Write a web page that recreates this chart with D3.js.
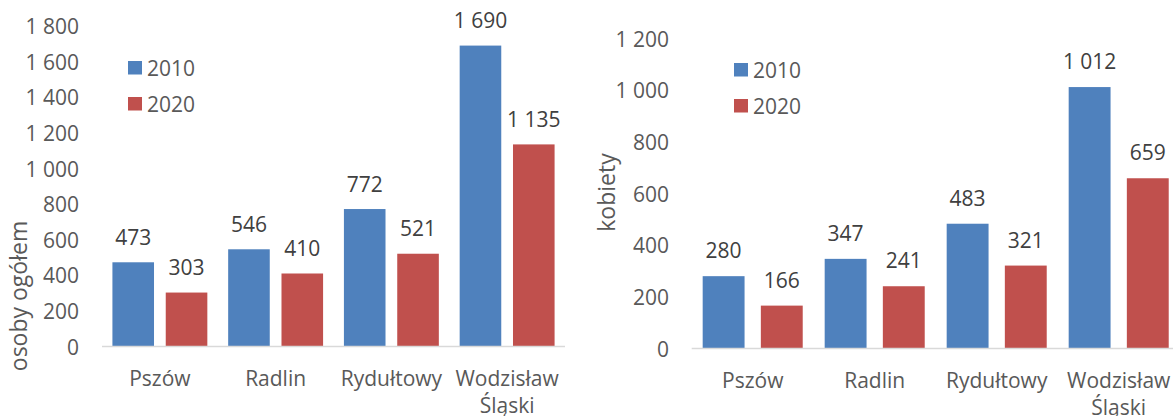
<!DOCTYPE html>
<meta charset="utf-8">
<style>
    body { margin: 0; background: #fff; }
    svg text { font-family: "Open Sans", sans-serif; }
    .tick-label { font-size: 21px; fill: #595959; }
    .cat-label { font-size: 21px; fill: #595959; }
    .value-label { font-size: 21px; fill: #404040; }
    .axis-title { font-size: 23px; fill: #595959; }
    .legend-label { font-size: 21px; fill: #595959; }
    .baseline { stroke: #d9d9d9; stroke-width: 1.5px; }
</style>
<svg id="svg" width="1173" height="416"></svg>

<script src="https://d3js.org/d3.v7.min.js"></script>
<script>

var categories = ["Pszów", "Radlin", "Rydułtowy", "Wodzisław Śląski"];
var years = ["2010", "2020"];
var colors = ["#4f81bd", "#c0504d"];

// osoby ogółem
var total2010 = [473, 546, 772, 1690];
var total2020 = [303, 410, 521, 1135];
var totalTicks = [0, 200, 400, 600, 800, 1000, 1200, 1400, 1600, 1800];

// kobiety
var women2010 = [280, 347, 483, 1012];
var women2020 = [166, 241, 321, 659];
var womenTicks = [0, 200, 400, 600, 800, 1000, 1200];

var pl = d3.formatLocale({decimal: ",", thousands: " ", grouping: [3], currency: ["", ""]});
var fmt = pl.format(",");

var svg = d3.select("#svg");

function drawPanel(opt) {
    var g = svg.append("g");

    var x0 = d3.scaleBand()
        .domain(categories)
        .range(opt.xRange)
        .paddingInner(0.18)
        .paddingOuter(0.09);

    var x1 = d3.scaleBand()
        .domain(years)
        .range([0, x0.bandwidth()])
        .paddingInner(opt.innerPad);

    var y = d3.scaleLinear()
        .domain([0, opt.max])
        .range(opt.yRange);

    // value ticks
    var yAxis = d3.axisLeft(y).tickValues(opt.ticks).tickSize(0).tickPadding(0).tickFormat(fmt);
    var ya = g.append("g")
        .attr("transform", "translate(" + opt.tickX + ",0)")
        .call(yAxis);
    ya.select(".domain").remove();
    ya.selectAll("text")
        .attr("class", "tick-label")
        .attr("dy", "0.36em")
        .style("font-size", null)
        .attr("font-family", null)
        .attr("fill", null);

    // axis title
    g.append("text")
        .attr("class", "axis-title")
        .attr("text-anchor", "middle")
        .attr("transform", "translate(" + opt.titleX + "," + opt.titleY + ") rotate(-90)")
        .text(opt.title);

    // bars
    var rows = categories.map(function(c, i) {
        return {cat: c, values: [opt.s1[i], opt.s2[i]]};
    });

    var grp = g.selectAll(".grp")
        .data(rows)
        .enter().append("g")
        .attr("class", "grp")
        .attr("transform", function(d) { return "translate(" + x0(d.cat) + ",0)"; });

    var cell = grp.selectAll(".cell")
        .data(function(d) { return d.values.map(function(v, j) { return {year: years[j], v: v, j: j}; }); })
        .enter().append("g");

    cell.append("rect")
        .attr("x", function(d) { return x1(d.year); })
        .attr("y", function(d) { return y(d.v); })
        .attr("width", x1.bandwidth())
        .attr("height", function(d) { return y(0) - y(d.v); })
        .attr("fill", function(d) { return colors[d.j]; });

    cell.append("text")
        .attr("class", "value-label")
        .attr("text-anchor", "middle")
        .attr("x", function(d) { return x1(d.year) + x1.bandwidth() / 2; })
        .attr("y", function(d) { return y(d.v) - opt.labelGap; })
        .text(function(d) { return fmt(d.v); });

    // baseline
    g.append("line")
        .attr("class", "baseline")
        .attr("x1", opt.xRange[0])
        .attr("x2", opt.lineEnd)
        .attr("y1", y(0))
        .attr("y2", y(0));

    // category labels
    var cats = g.selectAll(".cat")
        .data(categories)
        .enter().append("text")
        .attr("class", "cat-label")
        .attr("text-anchor", "middle")
        .attr("transform", function(d) { return "translate(" + (x0(d) + x0.bandwidth() / 2) + "," + opt.catY + ")"; });
    cats.selectAll("tspan")
        .data(function(d) { return d.split(" "); })
        .enter().append("tspan")
        .attr("x", 0)
        .attr("y", function(d, i) { return i * 27; })
        .text(function(d) { return d; });

    // legend
    var leg = g.selectAll(".leg")
        .data(years)
        .enter().append("g")
        .attr("transform", function(d, i) { return "translate(" + opt.legX + "," + (opt.legY + i * 36) + ")"; });
    leg.append("rect")
        .attr("width", 14)
        .attr("height", 13.5)
        .attr("fill", function(d, i) { return colors[i]; });
    leg.append("text")
        .attr("class", "legend-label")
        .attr("x", 19)
        .attr("y", 14.5)
        .text(function(d) { return d; });
}

drawPanel({
    s1: total2010, s2: total2020, ticks: totalTicks, max: 1800,
    xRange: [102, 565], lineEnd: 565, yRange: [346.5, 26],
    innerPad: 0.22, tickX: 79, title: "osoby ogółem", titleX: 27, titleY: 296,
    labelGap: 17.5, catY: 385.5, legX: 128, legY: 61
});

drawPanel({
    s1: women2010, s2: women2020, ticks: womenTicks, max: 1200,
    xRange: [691.7, 1179.7], lineEnd: 1173, yRange: [348.5, 38.5],
    innerPad: 0.28, tickX: 669, title: "kobiety", titleX: 615, titleY: 192.5,
    labelGap: 18, catY: 387.5, legX: 734, legY: 63
});

</script>
